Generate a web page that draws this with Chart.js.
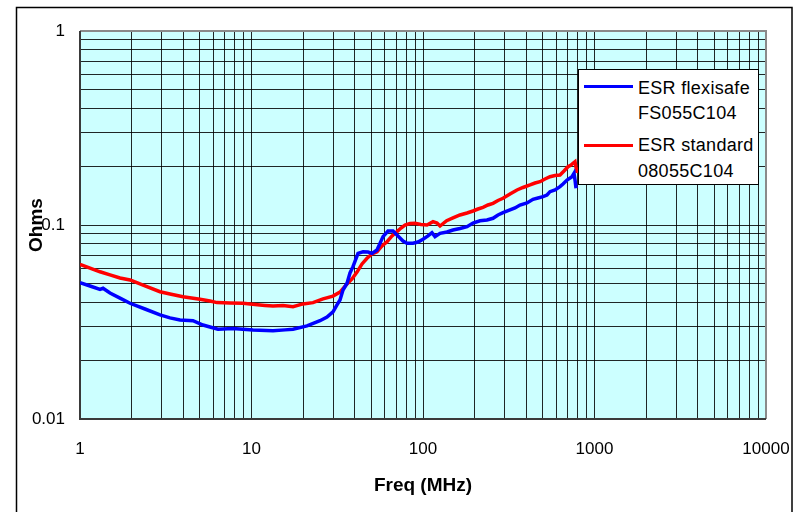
<!DOCTYPE html>
<html><head><meta charset="utf-8">
<script src="https://cdn.jsdelivr.net/npm/chart.js@4.4.1/dist/chart.umd.min.js"></script>
<style>
html,body{margin:0;padding:0;background:#fff;}
#wrap{position:relative;width:799px;height:512px;overflow:hidden;}
#legend{position:absolute;left:578px;top:69px;width:181px;height:116px;box-sizing:border-box;border:1px solid #000;background:#fff;font-family:"Liberation Sans",Arial,sans-serif;font-size:18px;color:#000;}
#legend .sw{position:absolute;left:5px;width:49px;height:3px;}
#legend .t{position:absolute;left:59px;line-height:26px;height:26px;white-space:nowrap;letter-spacing:0.3px;}
</style></head>
<body>
<div id="wrap">
<canvas id="c" width="799" height="512"></canvas>
<div id="legend">
  <div class="sw" style="top:15px;background:#0000ff"></div>
  <div class="t" style="top:5px">ESR flexisafe</div>
  <div class="t" style="top:30px">FS055C104</div>
  <div class="sw" style="top:74px;background:#ff0000"></div>
  <div class="t" style="top:62px">ESR standard</div>
  <div class="t" style="top:88px">08055C104</div>
</div>
</div>
<script>
// Frequencies (MHz) and ESR (Ohms)
const freqFlexisafe = [1, 1.144, 1.308, 1.362, 1.496, 1.711, 1.957, 2.393, 2.928, 3.348, 3.830, 4.560, 5.214, 5.728, 6.377, 7.800, 10.20, 13.35, 15.68, 17.46, 21.07, 25.08, 27.56, 29.87, 31.51, 32.81, 34.16, 36.06, 37.53, 39.07, 41.79, 44.69, 47.79, 50.42, 53.92, 58.47, 62.51, 66.86, 71.49, 76.44, 80.66, 87.44, 93.50, 100, 106.9, 112.8, 117.5, 125.7, 138.0, 149.6, 164.3, 180.6, 195.6, 215.0, 236.1, 256.0, 273.7, 292.8, 321.6, 343.9, 367.8, 404.1, 437.9, 468.4, 500.8, 528.4, 550.2, 588.4, 629.2, 655.1, 691.4, 739.4, 759.5, 769.8, 780.2];
const esrFlexisafe = [0.0504, 0.0485, 0.0466, 0.0472, 0.0446, 0.0420, 0.0395, 0.0369, 0.0344, 0.0332, 0.0324, 0.0321, 0.0305, 0.0298, 0.0290, 0.0293, 0.0288, 0.0285, 0.0288, 0.0290, 0.0302, 0.0321, 0.0335, 0.0357, 0.0387, 0.0411, 0.0462, 0.0501, 0.0566, 0.0610, 0.0714, 0.0728, 0.0726, 0.0714, 0.0743, 0.0871, 0.0931, 0.0931, 0.0878, 0.0827, 0.0805, 0.0805, 0.0817, 0.0844, 0.0878, 0.0913, 0.0871, 0.0906, 0.0920, 0.0942, 0.0959, 0.0980, 0.1024, 0.1052, 0.1061, 0.1083, 0.1126, 0.1157, 0.1195, 0.1224, 0.1268, 0.1299, 0.1357, 0.1378, 0.1399, 0.1428, 0.1485, 0.1515, 0.1576, 0.1627, 0.1706, 0.1774, 0.1847, 0.1706, 0.1546];

const freqStandard = [1, 1.144, 1.308, 1.496, 1.711, 1.957, 2.393, 2.928, 3.348, 3.987, 5.008, 5.728, 6.292, 7.492, 8.921, 10.48, 11.99, 13.35, 15.27, 17.46, 19.97, 22.84, 26.12, 29.87, 32.81, 36.06, 38.55, 41.23, 44.10, 47.16, 50.42, 53.92, 57.68, 61.68, 65.96, 70.54, 74.41, 78.52, 84.0, 89.82, 97.34, 105.5, 114.4, 120.7, 125.7, 137.4, 149.6, 164.3, 180.6, 195.6, 209.3, 223.8, 239.3, 256.0, 273.7, 292.8, 321.6, 353.3, 382.9, 420.7, 449.9, 481.2, 514.5, 550.2, 588.4, 629.2, 664.0, 700.7, 729.5, 749.3, 769.8, 790.7];
const esrStandard = [0.0627, 0.0600, 0.0574, 0.0553, 0.0533, 0.0521, 0.0485, 0.0453, 0.0441, 0.0427, 0.0414, 0.0406, 0.0398, 0.0396, 0.0395, 0.0389, 0.0385, 0.0382, 0.0385, 0.0379, 0.0392, 0.0398, 0.0416, 0.0430, 0.0451, 0.0497, 0.0527, 0.0572, 0.0630, 0.0674, 0.0709, 0.0728, 0.0780, 0.0820, 0.0878, 0.0924, 0.0965, 0.1000, 0.1018, 0.1020, 0.1006, 0.1000, 0.1040, 0.1024, 0.0988, 0.1052, 0.1087, 0.1126, 0.1153, 0.1181, 0.1209, 0.1234, 0.1268, 0.1294, 0.1338, 0.1373, 0.1445, 0.1515, 0.1561, 0.1608, 0.1646, 0.1672, 0.1726, 0.1774, 0.1799, 0.1810, 0.1899, 0.1998, 0.2038, 0.2080, 0.2120, 0.1854];

const xDecades = [1, 10, 100, 1000, 10000];
const yDecades = [0.01, 0.1, 1];
const xTickLabels = ['1', '10', '100', '1000', '10000'];
const yTickLabels = ['0.01', '0.1', '1'];
const seriesNames = ['ESR flexisafe FS055C104', 'ESR standard 08055C104'];

function logTicks(decades) {
  const out = [];
  for (let i = 0; i < decades.length - 1; i++) {
    for (let m = 1; m <= 9; m++) out.push({value: +(decades[i] * m).toPrecision(6)});
  }
  out.push({value: decades[decades.length - 1]});
  return out;
}
function labelFor(v, decades, labels) {
  for (let i = 0; i < decades.length; i++) {
    if (Math.abs(v - decades[i]) / decades[i] < 1e-6) return labels[i];
  }
  return '';
}

const bgPlugin = {
  id: 'bg',
  beforeDraw(chart) {
    const {ctx, chartArea: a} = chart;
    ctx.save();
    ctx.fillStyle = '#ffffff';
    ctx.fillRect(0, 0, chart.width, chart.height);
    ctx.fillStyle = '#ccffff';
    ctx.fillRect(a.left, a.top, a.right - a.left, a.bottom - a.top);
    ctx.strokeStyle = '#000000';
    ctx.lineWidth = 1.5;
    ctx.strokeRect(16.5, 7.5, 775.5, 540);
    ctx.restore();
  },
  beforeDatasetsDraw(chart) {
    const {ctx, chartArea: a} = chart;
    ctx.save();
    ctx.lineWidth = 2;
    ctx.strokeStyle = '#8a8a8a';
    ctx.beginPath();
    ctx.moveTo(a.left, a.top); ctx.lineTo(a.right, a.top); ctx.lineTo(a.right, a.bottom);
    ctx.stroke();
    ctx.strokeStyle = '#3a3a3a';
    ctx.beginPath();
    ctx.moveTo(a.left, a.top); ctx.lineTo(a.left, a.bottom); ctx.lineTo(a.right, a.bottom);
    ctx.stroke();
    ctx.restore();
  }
};

new Chart(document.getElementById('c'), {
  type: 'line',
  data: {
    datasets: [
      {label: seriesNames[0], data: freqFlexisafe.map((f, i) => ({x: f, y: esrFlexisafe[i]})),
       borderColor: '#0000ff', borderWidth: 3.5, pointRadius: 0, tension: 0, fill: false},
      {label: seriesNames[1], data: freqStandard.map((f, i) => ({x: f, y: esrStandard[i]})),
       borderColor: '#ff0000', borderWidth: 3.5, pointRadius: 0, tension: 0, fill: false}
    ]
  },
  options: {
    responsive: false,
    devicePixelRatio: 1,
    animation: false,
    layout: {padding: {top: 31, right: 33, left: 0, bottom: 0}},
    plugins: {legend: {display: false}, tooltip: {enabled: false}},
    scales: {
      x: {
        type: 'logarithmic', min: 1, max: 10000,
        afterBuildTicks(s) { s.ticks = logTicks(xDecades); },
        afterFit(s) { s.height = 93; s.paddingLeft = 0; s.paddingRight = 0; },
        grid: {color: 'rgba(0,0,0,0.85)', lineWidth: 1, drawTicks: false},
        border: {display: false},
        ticks: {autoSkip: false, maxRotation: 0, minRotation: 0, padding: 20, color: '#000',
          font: {family: '"Liberation Sans", Arial, sans-serif', size: 17},
          callback: (v) => labelFor(v, xDecades, xTickLabels)},
        title: {display: true, text: 'Freq (MHz)', color: '#000', padding: {top: 0, bottom: 15},
          font: {family: '"Liberation Sans", Arial, sans-serif', size: 19, weight: 'bold'}}
      },
      y: {
        type: 'logarithmic', min: 0.01, max: 1,
        afterBuildTicks(s) { s.ticks = logTicks(yDecades); },
        afterFit(s) { s.width = 80; s.paddingTop = 0; s.paddingBottom = 0; },
        grid: {color: 'rgba(0,0,0,0.85)', lineWidth: 1, drawTicks: false},
        border: {display: false},
        ticks: {autoSkip: false, padding: 15, color: '#000',
          font: {family: '"Liberation Sans", Arial, sans-serif', size: 17},
          callback: (v) => labelFor(v, yDecades, yTickLabels)},
        title: {display: true, text: 'Ohms', color: '#000', padding: {top: 25, bottom: 0},
          font: {family: '"Liberation Sans", Arial, sans-serif', size: 19, weight: 'bold'}}
      }
    }
  },
  plugins: [bgPlugin]
});
</script>
</body></html>
